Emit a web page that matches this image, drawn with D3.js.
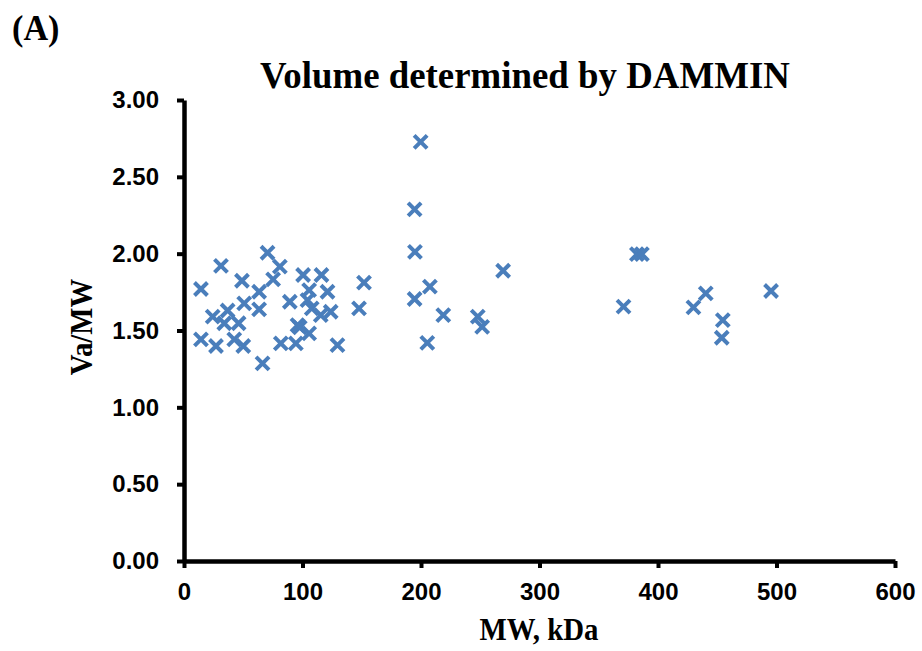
<!DOCTYPE html>
<html>
<head>
<meta charset="utf-8">
<script src="https://cdn.jsdelivr.net/npm/d3@7"></script>
<style>
  body { margin: 0; background: #fff; }
</style>
</head>
<body>
<div id="chart"></div>
<script>
//Data

const mwValues = [
  14.3, 31.2, 70.5, 80.9, 48.9, 75.2, 63.4, 50.8, 63.4, 24.2,
  36.8, 34.0, 46.1, 14.3, 27.0, 42.4, 50.0, 66.3, 100.5, 116.0,
  105.6, 121.1, 89.3, 104.2, 107.8, 115.4, 123.8, 151.9, 147.7, 95.8,
  97.7, 105.6, 81.7, 94.4, 129.5,
  199.7, 194.6, 194.9, 207.5, 194.6, 218.8, 247.9, 251.6, 205.3, 269.3,
  382.2, 386.4, 370.9, 429.9, 440.3, 454.7, 453.8, 495.4
];
const vaMwValues = [
  1.77, 1.92, 2.006, 1.916, 1.824, 1.833, 1.752, 1.677, 1.638, 1.59,
  1.63, 1.547, 1.547, 1.442, 1.399, 1.442, 1.399, 1.286, 1.861, 1.861,
  1.763, 1.752, 1.687, 1.698, 1.644, 1.60, 1.622, 1.811, 1.644, 1.535,
  1.52, 1.481, 1.416, 1.416, 1.405,
  2.728, 2.288, 2.012, 1.785, 1.705, 1.60, 1.59, 1.524, 1.42, 1.889,
  1.997, 1.997, 1.655, 1.651, 1.742, 1.568, 1.453, 1.757
];
const xTicks = [0, 100, 200, 300, 400, 500, 600];
const yTicks = [0, 0.5, 1, 1.5, 2, 2.5, 3];

const points = mwValues.map((v, i) => ({x: v, y: vaMwValues[i]}));

//Set Dimensions

const width = 922, height = 651;
const plotLeft = 184, plotRight = 895, plotTop = 100, plotBottom = 561;
const markerColor = "#4a7ebb";

const svg = d3.select("#chart")
  .append("svg")
  .attr("width", width)
  .attr("height", height);

//Scales

const x = d3.scaleLinear().domain([0, 600]).range([plotLeft, plotRight]);
const y = d3.scaleLinear().domain([0, 3]).range([plotBottom, plotTop]);

//Axes

const xAxis = svg.append("g")
  .attr("transform", `translate(0,${plotBottom})`)
  .call(d3.axisBottom(x).tickValues(xTicks).tickSize(7).tickPadding(15).tickSizeOuter(0));

const yAxis = svg.append("g")
  .attr("transform", `translate(${plotLeft},0)`)
  .call(d3.axisLeft(y).tickValues(yTicks).tickSize(7).tickPadding(18)
    .tickSizeOuter(0).tickFormat(d3.format(".2f")));

[xAxis, yAxis].forEach(g => {
  g.select(".domain").attr("stroke", "#000").attr("stroke-width", 4.5);
  g.selectAll(".tick line").attr("stroke", "#000").attr("stroke-width", 4);
  g.selectAll(".tick text")
    .attr("fill", "#000")
    .style("font-family", "'Liberation Sans', Arial, sans-serif")
    .style("font-weight", "bold")
    .style("font-size", "24px");
});

//Markers

svg.append("g")
  .selectAll("path")
  .data(points)
  .join("path")
  .attr("transform", d => `translate(${x(d.x)},${y(d.y)})`)
  .attr("d", "M-6.5,-6.5L6.5,6.5M-6.5,6.5L6.5,-6.5")
  .attr("fill", "none")
  .attr("stroke", markerColor)
  .attr("stroke-width", 4);

//Texts (serif, slightly condensed like the original)

const serif = "'Liberation Serif', 'Times New Roman', serif";

function label(tx, ty, rot, sx, size, anchor, str) {
  svg.append("text")
    .attr("transform", `translate(${tx},${ty}) rotate(${rot}) scale(${sx},1)`)
    .attr("text-anchor", anchor)
    .style("font-family", serif).style("font-weight", "bold").style("font-size", size + "px")
    .text(str);
}

label(12, 40, 0, 0.95, 36, "start", "(A)");
label(525, 88, 0, 0.97, 38, "middle", "Volume determined by DAMMIN");
label(539, 640, 0, 0.9, 32, "middle", "MW, kDa");
label(92, 327, -90, 0.9, 32, "middle", "Va/MW");
</script>
</body>
</html>
